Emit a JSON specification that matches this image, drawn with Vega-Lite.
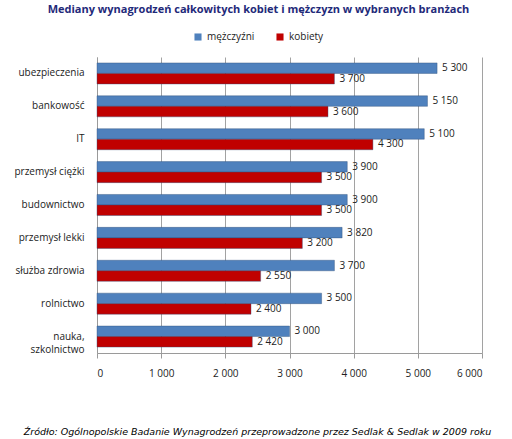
{
  "$schema": "https://vega.github.io/schema/vega-lite/v6.json",
  "autosize": {"type": "none"},
  "width": 385,
  "height": 296,
  "padding": {"left": 97, "top": 57, "right": 30, "bottom": 86},
  "title": {
    "text": "Mediany wynagrodzeń całkowitych  kobiet i mężczyzn  w wybranych  branżach",
    "font": "Open Sans",
    "fontSize": 11,
    "fontWeight": "bold",
    "color": "#1F2A7A",
    "anchor": "middle",
    "dx": -31,
    "offset": 17
  },
  "data": {
    "values": [
      {"branza": "ubezpieczenia", "plec": "mężczyźni", "wartosc": 5300},
      {"branza": "ubezpieczenia", "plec": "kobiety", "wartosc": 3700},
      {"branza": "bankowość", "plec": "mężczyźni", "wartosc": 5150},
      {"branza": "bankowość", "plec": "kobiety", "wartosc": 3600},
      {"branza": "IT", "plec": "mężczyźni", "wartosc": 5100},
      {"branza": "IT", "plec": "kobiety", "wartosc": 4300},
      {"branza": "przemysł ciężki", "plec": "mężczyźni", "wartosc": 3900},
      {"branza": "przemysł ciężki", "plec": "kobiety", "wartosc": 3500},
      {"branza": "budownictwo", "plec": "mężczyźni", "wartosc": 3900},
      {"branza": "budownictwo", "plec": "kobiety", "wartosc": 3500},
      {"branza": "przemysł lekki", "plec": "mężczyźni", "wartosc": 3820},
      {"branza": "przemysł lekki", "plec": "kobiety", "wartosc": 3200},
      {"branza": "służba zdrowia", "plec": "mężczyźni", "wartosc": 3700},
      {"branza": "służba zdrowia", "plec": "kobiety", "wartosc": 2550},
      {"branza": "rolnictwo", "plec": "mężczyźni", "wartosc": 3500},
      {"branza": "rolnictwo", "plec": "kobiety", "wartosc": 2400},
      {"branza": "nauka, szkolnictwo", "plec": "mężczyźni", "wartosc": 3000},
      {"branza": "nauka, szkolnictwo", "plec": "kobiety", "wartosc": 2420}
    ]
  },
  "encoding": {
    "y": {
      "field": "branza",
      "type": "nominal",
      "sort": null,
      "scale": {"paddingInner": 0.36, "paddingOuter": 0.18},
      "axis": {
        "title": null,
        "ticks": false,
        "labelPadding": 13,
        "labelFont": "Open Sans",
        "labelFontSize": 10,
        "labelLineHeight": 13,
        "labelColor": "#222",
        "domainColor": "#9a9a9a",
        "labelExpr": "datum.label == 'nauka, szkolnictwo' ? ['nauka,', 'szkolnictwo'] : datum.label"
      }
    },
    "yOffset": {
      "field": "plec",
      "type": "nominal",
      "sort": ["mężczyźni", "kobiety"],
      "scale": {"paddingInner": 0, "paddingOuter": 0}
    },
    "x": {
      "field": "wartosc",
      "type": "quantitative",
      "scale": {"domain": [0, 6000], "nice": false},
      "axis": {
        "values": [0, 1000, 2000, 3000, 4000, 5000, 6000],
        "format": ",d",
        "grid": true,
        "gridColor": "#8a8a8a",
        "gridWidth": 0.8,
        "domainColor": "#9a9a9a",
        "tickColor": "#9a9a9a",
        "tickSize": 5,
        "labelPadding": 10,
        "labelFont": "Open Sans",
        "labelFontSize": 10,
        "labelColor": "#222",
        "title": "Źródło: Ogólnopolskie Badanie Wynagrodzeń przeprowadzone przez Sedlak & Sedlak w 2009 roku",
        "titleFont": "DejaVu Sans",
        "titleFontSize": 9.5,
        "titleFontWeight": "normal",
        "titleFontStyle": "italic",
        "titleColor": "#000",
        "titleX": 160,
        "titlePadding": 48
      }
    }
  },
  "layer": [
    {
      "mark": {"type": "bar", "stroke": "#2e4f7a", "strokeWidth": 0.4},
      "encoding": {
        "color": {
          "field": "plec",
          "type": "nominal",
          "scale": {"domain": ["mężczyźni", "kobiety"], "range": ["#4F81BD", "#C00000"]},
          "legend": {
            "title": null,
            "orient": "none",
            "direction": "horizontal",
            "legendX": 96,
            "legendY": -25,
            "symbolType": "square",
            "symbolSize": 50,
            "symbolStrokeWidth": 0,
            "columnPadding": 20,
            "labelFont": "Open Sans",
            "labelFontSize": 10,
            "labelColor": "#222"
          }
        }
      }
    },
    {
      "mark": {"type": "text", "align": "left", "dx": 5, "font": "Open Sans", "fontSize": 10, "color": "#222"},
      "encoding": {
        "text": {"field": "wartosc", "type": "quantitative", "format": ",d"}
      }
    }
  ],
  "config": {
    "locale": {
      "number": {"decimal": ",", "thousands": " ", "grouping": [3], "currency": ["", " zł"]}
    },
    "view": {"stroke": null}
  }
}
